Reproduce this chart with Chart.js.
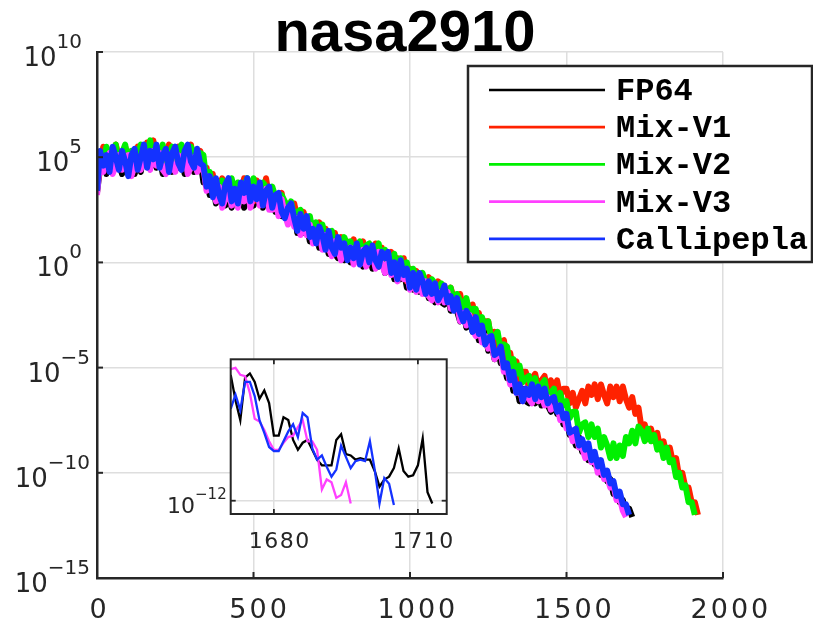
<!DOCTYPE html>
<html lang="en">
<head>
<meta charset="UTF-8">
<title>nasa2910</title>
<script src="https://cdn.jsdelivr.net/npm/chart.js"></script>
<style>
  body { margin: 0; background: #fff; }
  #wrap { position: relative; width: 813px; height: 626px; }
  #main { position: absolute; left: 0; top: 0; }
  #inset { position: absolute; left: 150px; top: 340px; }
</style>
</head>
<body>
<div id="wrap">
  <canvas id="main" width="813" height="626"></canvas>
  <canvas id="inset" width="320" height="230"></canvas>
</div>
<script>
// iteration numbers (every 10th iteration)
var iters = [
  0,10,20,30,40,50,60,70,80,90,100,110,120,130,140,150,160,170,180,190,
  200,210,220,230,240,250,260,270,280,290,300,310,320,330,340,350,360,370,380,390,
  400,410,420,430,440,450,460,470,480,490,500,510,520,530,540,550,560,570,580,590,
  600,610,620,630,640,650,660,670,680,690,700,710,720,730,740,750,760,770,780,790,
  800,810,820,830,840,850,860,870,880,890,900,910,920,930,940,950,960,970,980,990,
  1000,1010,1020,1030,1040,1050,1060,1070,1080,1090,1100,1110,1120,1130,1140,1150,1160,1170,1180,1190,
  1200,1210,1220,1230,1240,1250,1260,1270,1280,1290,1300,1310,1320,1330,1340,1350,1360,1370,1380,1390,
  1400,1410,1420,1430,1440,1450,1460,1470,1480,1490,1500,1510,1520,1530,1540,1550,1560,1570,1580,1590,
  1600,1610,1620,1630,1640,1650,1660,1670,1680,1690,1700,1710,1720,1730,1740,1750,1760,1770,1780,1790,
  1800,1810,1820,1830,1840,1850,1860,1870,1880,1890,1900,1910,1920
];

// residual norm as log10 exponent (noisy)
var fp64Exp = [
  3.3,4.5,5.1,4.2,4.9,4.4,5.2,4.7,4.2,5.1, 4.4,5.2,4.2,4.7,4.3,5.3,4.8,4.5,5.4,4.5,
  5.0,4.2,5.1,4.6,4.3,5.2,4.5,5.0,4.2,4.8, 5.2,4.3,4.6,4.9,3.8,4.1,3.2,3.8,2.8,3.1,
  3.6,2.7,3.3,2.6,3.5,3.0,3.6,2.6,3.2,3.5, 2.7,3.1,3.6,2.6,3.4,2.7,3.2,2.4,2.8,2.2,
  2.8,1.9,2.1,2.4,1.4,1.9,1.4,1.8,1.0,1.4, 1.6,0.7,0.9,1.2,0.4,1.1,0.4,0.2,0.8,0.1,
  0.8,0.0,0.5,0.1,0.6,-0.2,0.2,0.5,-0.3,0.3, -0.2,0.4,-0.5,-0.3,0.1,-0.8,-0.3,-0.8,-0.4,-1.2,
  -0.5,-1.3,-0.8,-1.4,-1.1,-0.9,-1.7,-1.3,-1.9,-1.2, -1.9,-2.0,-1.5,-2.3,-1.7,-2.3,-2.8,-2.2,-3.1,-2.7,
  -3.3,-2.8,-3.7,-3.5,-3.3,-4.2,-3.8,-4.6,-4.1,-4.8, -4.8,-5.5,-5.1,-6.1,-5.8,-6.6,-6.0,-6.6,-6.7,-6.1,
  -6.7,-6.2,-6.8,-6.2,-6.8,-7.1,-6.6,-7.2,-7.0,-7.7, -7.4,-8.2,-8.2,-8.7,-8.3,-9.0,-8.8,-9.4,-9.1,-9.6,
  -9.4,-10.1,-9.9,-10.4,-10.3,-11.0,-10.9,-11.4,-11.3,-11.9, -11.7,-12.1
];
var mixV1Exp = [
  3.6,4.6,5.5,4.9,5.3,4.5,5.6,5.0,4.6,5.5, 5.0,4.4,5.1,5.5,4.8,5.1,5.7,4.8,5.8,4.9,
  5.4,4.5,5.2,5.6,4.6,5.3,5.5,4.8,4.5,5.4, 5.6,4.7,5.0,5.3,4.3,4.5,3.5,4.2,3.0,3.6,
  4.0,3.0,3.5,3.9,2.9,3.7,3.2,4.0,3.1,3.6, 2.9,3.9,3.5,3.0,4.0,3.1,3.5,2.8,3.0,3.3,
  2.3,2.8,2.2,2.8,2.1,1.6,2.4,1.8,2.1,1.2, 1.7,1.9,1.0,1.6,0.7,1.1,1.4,0.7,1.2,0.4,
  1.0,0.6,1.1,0.3,0.7,1.0,0.1,0.8,0.3,0.9, 0.1,0.7,-0.2,0.2,0.5,-0.4,0.2,-0.4,0.2,-0.9,
  -0.3,-1.0,-0.4,-0.9,-0.6,-1.4,-0.7,-1.1,-1.6,-0.9, -1.6,-1.1,-1.9,-1.2,-1.7,-2.1,-1.5,-2.2,-1.8,-2.7,
  -2.0,-2.7,-2.4,-3.3,-2.8,-2.8,-3.7,-3.3,-4.1,-3.8, -3.7,-4.7,-4.3,-5.1,-4.7,-5.6,-5.2,-5.2,-6.0,-5.5,
  -5.3,-6.0,-5.6,-5.4,-6.2,-5.6,-6.0,-5.6,-6.4,-6.0, -6.0,-6.7,-6.2,-6.9,-6.5,-6.1,-6.7,-5.9,-6.3,-5.8,
  -6.5,-5.8,-6.3,-6.7,-5.9,-6.4,-5.9,-6.6,-5.9,-6.5, -6.9,-6.4,-7.2,-6.9,-7.9,-7.7,-8.4,-7.9,-8.5,-8.1,
  -8.9,-8.5,-9.2,-8.8,-9.5,-9.3,-10.2,-10.0,-10.7,-10.7, -11.4,-11.4,-12.0
];
var mixV2Exp = [
  3.5,5.1,4.5,5.5,5.1,4.7,5.6,4.6,5.2,5.6, 4.7,5.3,4.4,5.2,5.6,4.8,5.3,5.8,4.9,5.5,
  5.0,5.6,4.6,5.2,5.5,4.5,5.3,5.6,4.8,4.6, 5.5,5.2,4.5,5.2,5.1,3.8,4.3,3.6,3.9,3.0,
  3.9,3.6,3.0,4.0,3.3,3.8,2.9,3.7,4.0,3.1, 4.0,3.2,2.9,3.8,3.6,2.9,3.6,3.1,2.5,3.2,
  2.9,2.2,2.9,2.2,2.4,2.5,1.5,2.0,2.2,1.4, 1.9,1.0,1.8,1.2,1.4,1.5,0.6,1.1,0.4,1.2,
  0.8,1.0,0.3,0.8,1.0,0.1,0.8,0.9,0.2,0.5, 0.9,-0.1,0.6,0.0,0.2,0.4,-0.5,0.2,-0.3,0.0,
  -0.8,-0.3,-0.7,-1.1,-0.5,-1.0,-1.5,-0.8,-1.0,-1.5, -1.0,-1.7,-1.4,-1.2,-2.1,-1.5,-1.8,-2.3,-1.7,-2.4,
  -2.2,-2.2,-3.1,-2.6,-3.1,-2.8,-3.7,-3.5,-3.3,-4.2, -3.9,-4.0,-5.0,-4.6,-5.3,-4.9,-5.7,-5.5,-5.4,-6.2,
  -5.5,-6.3,-5.8,-5.6,-6.4,-6.2,-6.0,-6.9,-6.2,-6.8, -6.6,-7.4,-7.1,-7.1,-8.1,-7.7,-7.6,-8.3,-7.7,-8.3,
  -7.9,-8.8,-8.3,-8.7,-9.3,-8.6,-9.3,-8.7,-9.2,-8.3, -8.6,-8.0,-8.6,-7.8,-8.0,-8.5,-7.9,-8.5,-8.2,-8.9,
  -8.6,-9.3,-8.8,-9.5,-9.4,-10.2,-10.0,-10.7,-10.6,-11.4, -11.4,-12.0
];
var mixV3Exp = [
  3.2,4.8,4.3,4.7,5.2,4.2,4.6,5.1,4.4,5.0, 5.1,4.1,4.6,5.0,4.4,5.2,4.9,4.4,5.3,4.6,
  5.2,4.4,4.2,5.0,4.6,4.3,5.1,4.7,5.2,4.2, 4.5,5.0,4.3,4.5,4.5,3.4,3.5,3.8,2.9,3.6,
  2.6,3.0,3.5,2.7,3.3,2.6,3.4,2.9,3.6,2.6, 3.2,3.5,2.7,3.0,3.5,2.5,2.5,3.0,2.2,3.0,
  2.3,1.8,2.5,1.7,2.1,1.3,1.8,1.3,1.8,0.9, 1.2,1.4,0.6,1.3,0.7,0.3,1.0,0.6,0.1,0.7,
  0.2,0.7,-0.1,0.4,-0.1,0.6,-0.2,0.1,0.4,-0.3, 0.5,-0.1,-0.5,0.1,-0.6,-0.2,-0.9,-0.1,-0.8,-0.6,
  -1.3,-0.7,-1.4,-0.9,-1.5,-0.9,-1.6,-1.8,-1.2,-1.9, -1.4,-1.9,-1.4,-2.2,-2.1,-2.0,-2.8,-2.4,-3.0,-2.5,
  -3.2,-3.5,-3.0,-3.8,-3.5,-4.1,-3.8,-4.6,-4.4,-4.3, -5.2,-5.0,-5.8,-5.4,-6.2,-6.0,-6.6,-6.0,-6.5,-6.7,
  -6.1,-6.6,-6.3,-6.8,-6.4,-7.0,-6.9,-6.8,-7.5,-7.2, -7.9,-7.9,-8.5,-8.2,-8.8,-8.8,-9.3,-8.9,-9.5,-9.3,
  -10.0,-9.7,-10.3,-10.2,-10.7,-10.6,-11.3,-11.2,-11.8,-12.1
];
var callipeplaExp = [
  3.4,5.3,4.6,5.1,4.3,5.5,5.0,4.4,5.3,4.8, 4.1,5.1,5.4,4.4,5.0,5.6,4.5,5.3,4.9,5.6,
  4.5,5.1,5.4,4.3,5.2,5.5,4.7,4.4,5.3,5.6, 4.8,4.5,5.4,4.7,4.6,3.6,4.1,3.1,4.0,3.2,
  2.8,3.7,4.0,2.9,3.5,2.8,3.8,3.3,4.0,2.9, 3.6,3.0,3.8,2.7,3.4,3.6,2.6,3.2,3.3,2.4,
  2.1,2.6,2.8,2.1,1.5,2.3,1.6,2.2,1.2,1.6, 0.9,1.7,1.3,0.6,1.5,0.7,0.4,1.2,0.7,0.9,
  0.1,0.7,0.2,0.9,-0.1,0.5,0.7,0.0,0.8,0.1, -0.2,0.5,0.2,0.5,-0.5,0.0,-0.8,0.1,-0.6,-0.3,
  -1.2,-0.5,-1.3,-0.5,-0.9,-1.5,-0.9,-1.5,-1.0,-1.8, -1.5,-1.1,-1.9,-1.6,-2.3,-1.7,-2.4,-2.8,-2.3,-2.6,
  -3.3,-2.6,-3.4,-3.0,-3.9,-3.6,-3.5,-4.4,-4.3,-4.0, -5.0,-4.8,-5.6,-5.2,-6.2,-5.8,-6.6,-6.0,-6.3,-5.8,
  -6.5,-5.9,-6.4,-6.0,-6.7,-6.5,-6.4,-7.1,-6.8,-7.4, -7.2,-8.1,-8.0,-7.9,-8.7,-8.4,-8.9,-8.6,-9.4,-9.0,
  -9.7,-9.4,-10.1,-9.9,-10.5,-10.4,-11.1,-10.9,-11.5,-11.5, -12.0
];

// zoomed-in tail (every iteration)
var insetIters = [
  1671,1672,1673,1674,1675,1676,1677,1678,1679,1680,1681,1682,1683,1684,1685,
  1686,1687,1688,1689,1690,1691,1692,1693,1694,1695,1696,1697,1698,1699,1700,
  1701,1702,1703,1704,1705,1706,1707,1708,1709,1710,1711,1712,1713
];
var insetFp64Exp = [
  -11.11,-11.29,-11.43,-11.13,-11.10,-11.16,-11.28,-11.22,-11.31,-11.54,-11.54,-11.41,-11.43,-11.57,-11.64,
  -11.59,-11.57,-11.64,-11.71,-11.75,-11.75,-11.75,-11.57,-11.53,-11.67,-11.68,-11.71,-11.70,-11.71,-11.71,
  -11.79,-11.90,-11.85,-11.83,-11.77,-11.63,-11.79,-11.83,-11.82,-11.75,-11.56,-11.94,-12.02
];
var insetMixV3Exp = [
  -11.07,-11.06,-11.11,-11.12,-11.24,-11.42,-11.44,-11.50,-11.58,-11.64,-11.64,-11.59,-11.55,-11.54,-11.48,
  -11.43,-11.58,-11.58,-11.64,-11.92,-11.85,-11.87,-11.98,-11.96,-11.87,-12.02
];
var insetCallipeplaExp = [
  -11.35,-11.25,-11.36,-11.16,-11.16,-11.26,-11.43,-11.52,-11.62,-11.65,-11.65,-11.58,-11.51,-11.46,-11.55,
  -11.38,-11.41,-11.63,-11.71,-11.68,-11.76,-11.83,-11.78,-11.61,-11.69,-11.77,-11.72,-11.71,-11.72,-11.58,
  -11.78,-12.02,-11.84,-11.88,-12.03
];

var seriesNames = ['FP64', 'Mix-V1', 'Mix-V2', 'Mix-V3', 'Callipepla'];
var seriesColors = ['#000000', '#ff2200', '#00f000', '#ff40ff', '#1432ff'];
var xTicks = [0, 500, 1000, 1500, 2000];
var yTickExps = [-15, -10, -5, 0, 5, 10];
var insetXTicks = [1680, 1710];
var insetYTickExps = [-12];

var AXIS = '#262626';
var GRID = '#dedede';

function toPoints(exps, xs) {
  return exps.map(function (e, i) { return { x: xs[i], y: Math.pow(10, e) }; });
}

function supLabel(e) {
  return e < 0 ? '\u2212' + (-e) : String(e);
}

function line(ctx, x1, y1, x2, y2) {
  ctx.beginPath();
  ctx.moveTo(x1, y1);
  ctx.lineTo(x2, y2);
  ctx.stroke();
}

// ticks, tick labels, title and legend of the big plot
var mainDecor = {
  id: 'mainDecor',
  beforeDraw: function (chart) {
    chart.ctx.letterSpacing = '0px';
  },
  afterDraw: function (chart) {
    var ctx = chart.ctx, a = chart.chartArea;
    var xs = chart.scales.x, ys = chart.scales.y;
    ctx.save();
    ctx.strokeStyle = AXIS;
    ctx.lineWidth = 2;
    xTicks.forEach(function (v) {
      var px = xs.getPixelForValue(v);
      line(ctx, px, a.bottom, px, a.bottom - 6);
    });
    yTickExps.forEach(function (e) {
      var py = ys.getPixelForValue(Math.pow(10, e));
      line(ctx, a.left, py, a.left + 6, py);
    });

    // x tick labels
    ctx.fillStyle = AXIS;
    ctx.textBaseline = 'alphabetic';
    ctx.textAlign = 'left';
    ctx.font = '27px "DejaVu Sans"';
    ctx.letterSpacing = '3px';
    xTicks.forEach(function (v) {
      var s = String(v);
      var w = ctx.measureText(s).width - 3;
      var px = xs.getPixelForValue(v) + 1 + 1.8 * (s.length - 1);
      ctx.fillText(s, px - w / 2, 618);
    });

    // y tick labels 10^e
    ctx.letterSpacing = '0px';
    ctx.textAlign = 'right';
    yTickExps.forEach(function (e) {
      var py = ys.getPixelForValue(Math.pow(10, e));
      var sup = supLabel(e);
      var right = e < 0 ? 90 : 82;
      ctx.font = '20px "DejaVu Sans"';
      ctx.fillText(sup, right, py - 4);
      var sw = ctx.measureText(sup).width;
      ctx.font = '26px "DejaVu Sans"';
      ctx.fillText('10', right - sw, py + 14);
    });

    // title
    ctx.fillStyle = '#000';
    ctx.textAlign = 'center';
    ctx.font = 'bold 58px "Liberation Sans"';
    ctx.fillText('nasa2910', 405, 51);

    // legend
    ctx.fillStyle = '#fff';
    ctx.fillRect(468, 66, 344, 196);
    ctx.strokeStyle = AXIS;
    ctx.lineWidth = 2.5;
    ctx.strokeRect(468, 66, 344, 196);
    ctx.textAlign = 'left';
    ctx.font = 'bold 32px "Liberation Mono"';
    seriesNames.forEach(function (name, i) {
      var ry = 90 + i * 37.2;
      ctx.strokeStyle = seriesColors[i];
      ctx.lineWidth = 2.7;
      line(ctx, 489, ry, 605, ry);
      ctx.fillStyle = '#000';
      ctx.fillText(name, 616, ry + 10);
    });
    ctx.restore();
  }
};

var expsList = [fp64Exp, mixV1Exp, mixV2Exp, mixV3Exp, callipeplaExp];
var mainSets = seriesNames.map(function (name, i) {
  return {
    label: name,
    data: toPoints(expsList[i], iters),
    borderColor: seriesColors[i],
    borderWidth: 6,
    borderJoinStyle: 'round',
    borderCapStyle: 'butt',
    pointRadius: 0,
    fill: false,
    order: 4 - i
  };
});

new Chart(document.getElementById('main'), {
  type: 'line',
  data: { datasets: mainSets },
  options: {
    responsive: false,
    animation: false,
    events: [],
    layout: { padding: { left: 97, top: 52, right: 90, bottom: 48 } },
    plugins: { legend: { display: false }, tooltip: { enabled: false }, title: { display: false } },
    elements: { line: { tension: 0 } },
    scales: {
      x: {
        type: 'linear', min: 0, max: 2000,
        afterBuildTicks: function (s) { s.ticks = xTicks.map(function (v) { return { value: v }; }); },
        afterFit: function (s) { s.height = 0; },
        ticks: { display: false },
        grid: { color: GRID, lineWidth: 1.5, drawTicks: false },
        border: { display: true, color: AXIS, width: 2.5, z: 1 }
      },
      y: {
        type: 'logarithmic', min: 1e-15, max: 1e10,
        afterBuildTicks: function (s) { s.ticks = yTickExps.map(function (e) { return { value: Math.pow(10, e) }; }); },
        afterFit: function (s) { s.width = 0; },
        ticks: { display: false },
        grid: { color: GRID, lineWidth: 1.5, drawTicks: false },
        border: { display: true, color: AXIS, width: 2.5, z: 1 }
      }
    }
  },
  plugins: [mainDecor]
});

// inset: white box, full frame, inward ticks, labels
var insetDecor = {
  id: 'insetDecor',
  beforeDraw: function (chart) {
    var ctx = chart.ctx, a = chart.chartArea;
    ctx.save();
    ctx.letterSpacing = '0px';
    ctx.fillStyle = '#fff';
    ctx.fillRect(a.left, a.top, a.right - a.left, a.bottom - a.top);
    ctx.restore();
  },
  afterDraw: function (chart) {
    var ctx = chart.ctx, a = chart.chartArea;
    var xs = chart.scales.x, ys = chart.scales.y;
    ctx.save();
    ctx.strokeStyle = AXIS;
    ctx.lineWidth = 2;
    ctx.strokeRect(a.left, a.top, a.right - a.left, a.bottom - a.top);
    ctx.lineWidth = 1.8;
    insetXTicks.forEach(function (v) {
      var px = xs.getPixelForValue(v);
      line(ctx, px, a.bottom, px, a.bottom - 5);
      line(ctx, px, a.top, px, a.top + 5);
    });
    insetYTickExps.forEach(function (e) {
      var py = ys.getPixelForValue(Math.pow(10, e));
      line(ctx, a.left, py, a.left + 5, py);
      line(ctx, a.right, py, a.right - 5, py);
    });

    ctx.fillStyle = AXIS;
    ctx.textBaseline = 'alphabetic';
    ctx.textAlign = 'left';
    ctx.font = '22px "DejaVu Sans"';
    ctx.letterSpacing = '1.5px';
    insetXTicks.forEach(function (v) {
      var s = String(v);
      var w = ctx.measureText(s).width - 1.5;
      var px = xs.getPixelForValue(v) + 5;
      ctx.fillText(s, px - w / 2, 208);
    });

    ctx.letterSpacing = '0px';
    ctx.textAlign = 'right';
    insetYTickExps.forEach(function (e) {
      var py = ys.getPixelForValue(Math.pow(10, e));
      var sup = supLabel(e);
      var right = a.left - 4;
      ctx.font = '15px "DejaVu Sans"';
      ctx.fillText(sup, right, py - 2);
      var sw = ctx.measureText(sup).width;
      ctx.font = '22px "DejaVu Sans"';
      ctx.fillText('10', right - sw, py + 12);
    });
    ctx.restore();
  }
};

var insetSets = [
  { label: 'FP64', data: toPoints(insetFp64Exp, insetIters), borderColor: seriesColors[0], order: 2 },
  { label: 'Mix-V3', data: toPoints(insetMixV3Exp, insetIters), borderColor: seriesColors[3], order: 1 },
  { label: 'Callipepla', data: toPoints(insetCallipeplaExp, insetIters), borderColor: seriesColors[4], order: 0 }
];
insetSets.forEach(function (d) { d.borderWidth = 2.3; d.pointRadius = 0; d.fill = false; });

new Chart(document.getElementById('inset'), {
  type: 'line',
  data: { datasets: insetSets },
  options: {
    responsive: false,
    animation: false,
    events: [],
    layout: { padding: { left: 80.7, top: 19.3, right: 23.3, bottom: 56 } },
    plugins: { legend: { display: false }, tooltip: { enabled: false }, title: { display: false } },
    elements: { line: { tension: 0 } },
    scales: {
      x: {
        type: 'linear', min: 1671, max: 1716,
        afterBuildTicks: function (s) { s.ticks = insetXTicks.map(function (v) { return { value: v }; }); },
        afterFit: function (s) { s.height = 0; },
        ticks: { display: false },
        grid: { color: GRID, lineWidth: 1.5, drawTicks: false },
        border: { display: false }
      },
      y: {
        type: 'logarithmic', min: Math.pow(10, -12.094), max: Math.pow(10, -11.0),
        afterBuildTicks: function (s) { s.ticks = insetYTickExps.map(function (e) { return { value: Math.pow(10, e) }; }); },
        afterFit: function (s) { s.width = 0; },
        ticks: { display: false },
        grid: { color: GRID, lineWidth: 1.5, drawTicks: false },
        border: { display: false }
      }
    }
  },
  plugins: [insetDecor]
});
</script>
</body>
</html>
